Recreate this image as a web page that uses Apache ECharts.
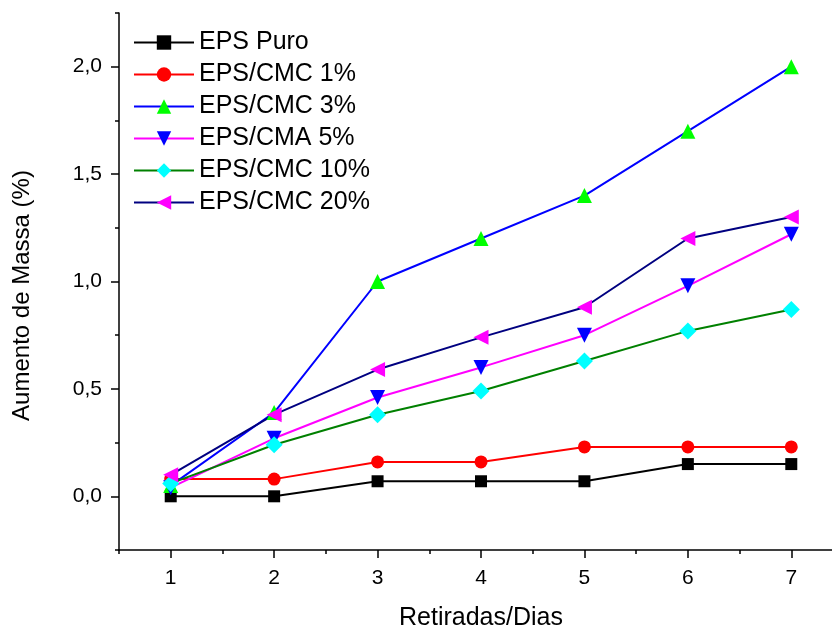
<!DOCTYPE html>
<html>
<head>
<meta charset="utf-8">
<script src="https://cdn.jsdelivr.net/npm/echarts@6/dist/echarts.min.js"></script>
<style>html,body{margin:0;padding:0;background:#fff}#c{width:832px;height:630px}</style>
</head>
<body>
<div id="c"></div>
<script>
var days = [1, 2, 3, 4, 5, 6, 7];
var epsPuro = [0.0, 0.0, 0.07, 0.07, 0.07, 0.15, 0.15];
var cmc1 = [0.08, 0.08, 0.16, 0.16, 0.23, 0.23, 0.23];
var cmc3 = [0.05, 0.39, 1.0, 1.2, 1.4, 1.7, 2.0];
var cma5 = [0.04, 0.27, 0.46, 0.6, 0.75, 0.98, 1.22];
var cmc10 = [0.06, 0.24, 0.38, 0.49, 0.63, 0.77, 0.87];
var cmc20 = [0.1, 0.38, 0.59, 0.74, 0.88, 1.2, 1.3];
var seriesNames = ['EPS Puro', 'EPS/CMC 1%', 'EPS/CMC 3%', 'EPS/CMA 5%', 'EPS/CMC 10%', 'EPS/CMC 20%'];
var xMajor = [1, 2, 3, 4, 5, 6, 7];
var xMinor = [0.5, 1.5, 2.5, 3.5, 4.5, 5.5, 6.5, 7.5];
var yMajor = [0, 0.5, 1.0, 1.5, 2.0];
var yMinor = [-0.25, 0.25, 0.75, 1.25, 1.75, 2.25];

var FONT = '"Liberation Sans", Arial, sans-serif';
function pairs(v) { return days.map(function (d, i) { return [d, v[i]]; }); }

var styles = [
  { line: '#000000', mark: '#000000', symbol: 'rect', size: 12, rot: 0 },
  { line: '#ff0000', mark: '#ff0000', symbol: 'circle', size: 13, rot: 0 },
  { line: '#0000ff', mark: '#00ff00', symbol: 'triangle', size: 15, rot: 0 },
  { line: '#ff00ff', mark: '#0000ff', symbol: 'triangle', size: 15, rot: 180 },
  { line: '#008000', mark: '#00ffff', symbol: 'diamond', size: 17, rot: 0 },
  { line: '#000080', mark: '#ff00ff', symbol: 'triangle', size: 15, rot: 90 }
];
var values = [epsPuro, cmc1, cmc3, cma5, cmc10, cmc20];

var series = values.map(function (v, i) {
  var s = styles[i];
  return {
    name: seriesNames[i], type: 'line', xAxisIndex: 0, yAxisIndex: 0,
    data: pairs(v), symbol: s.symbol, symbolSize: s.size, symbolRotate: s.rot,
    showAllSymbol: true, animation: false,
    lineStyle: { color: s.line, width: 2 },
    itemStyle: { color: s.mark, borderWidth: 0 }
  };
});

var axisLine = { show: true, onZero: false, lineStyle: { color: '#000', width: 1.5 } };
var chart = echarts.init(document.getElementById('c'), null, { renderer: 'canvas' });
chart.setOption({
  animation: false,
  backgroundColor: '#fff',
  grid: { left: 119, top: 13, right: -11, bottom: 80, containLabel: false, outerBoundsMode: 'none' },
  legend: {
    orient: 'vertical', left: 133, top: 30, padding: 0,
    itemWidth: 60, itemHeight: 18, itemGap: 7,
    textStyle: { fontFamily: FONT, fontSize: 25, color: '#000' },
    data: seriesNames
  },
  xAxis: [{
    type: 'value', min: 0.5, max: 7.5, position: 'bottom',
    axisLine: axisLine,
    axisTick: { show: true, length: 8, inside: false, customValues: xMajor, lineStyle: { color: '#000', width: 1.5 } },
    axisLabel: { customValues: xMajor, fontFamily: FONT, fontSize: 21, color: '#000', margin: 18 },
    splitLine: { show: false },
    name: 'Retiradas/Dias', nameLocation: 'middle', nameGap: 56,
    nameTextStyle: { fontFamily: FONT, fontSize: 25, color: '#000' }
  }, {
    type: 'value', min: 0.5, max: 7.5, position: 'bottom',
    axisLine: { show: false, onZero: false },
    axisTick: { show: true, length: 4, customValues: xMinor, lineStyle: { color: '#000', width: 1.5 } },
    axisLabel: { show: false },
    splitLine: { show: false }
  }],
  yAxis: [{
    type: 'value', min: -0.25, max: 2.25, position: 'left',
    axisLine: axisLine,
    axisTick: { show: true, length: 8, customValues: yMajor, lineStyle: { color: '#000', width: 1.5 } },
    axisLabel: {
      customValues: yMajor, fontFamily: FONT, fontSize: 21, color: '#000', margin: 17,
      formatter: function (v) { return v.toFixed(1).replace('.', ','); }
    },
    splitLine: { show: false },
    name: 'Aumento de Massa (%)', nameLocation: 'middle', nameGap: 85, nameRotate: 90,
    nameTextStyle: { fontFamily: FONT, fontSize: 24, color: '#000', padding: [0, 28, 0, 0] }
  }, {
    type: 'value', min: -0.25, max: 2.25, position: 'left',
    axisLine: { show: false, onZero: false },
    axisTick: { show: true, length: 4, customValues: yMinor, lineStyle: { color: '#000', width: 1.5 } },
    axisLabel: { show: false },
    splitLine: { show: false }
  }],
  series: series
});
</script>
</body>
</html>
